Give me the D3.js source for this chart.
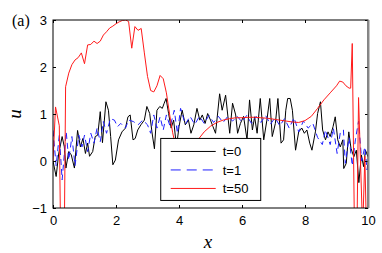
<!DOCTYPE html>
<html>
<head>
<meta charset="utf-8">
<script src="https://cdn.jsdelivr.net/npm/d3@7"></script>
<style>
  body { margin: 0; background: #fff; }
  .tick text { font-family: "Liberation Sans", Arial, sans-serif; }
</style>
</head>
<body>
<div class="canva"></div>
<script>
// t=0 (noisy initial condition)
const blackX = [0, 0.1, 0.18, 0.29, 0.36, 0.41, 0.5, 0.58, 0.68, 0.78, 0.87, 0.95, 1.03, 1.1, 1.16, 1.26, 1.34, 1.42, 1.5, 1.57, 1.68, 1.76, 1.83, 1.9, 1.98, 2.08, 2.19, 2.3, 2.38, 2.45, 2.54, 2.61, 2.69, 2.79, 2.9, 2.98, 3.07, 3.14, 3.22, 3.3, 3.39, 3.47, 3.53, 3.59, 3.67, 3.75, 3.83, 3.92, 4.0, 4.1, 4.2, 4.3, 4.38, 4.47, 4.57, 4.66, 4.74, 4.83, 4.91, 5.0, 5.08, 5.16, 5.29, 5.37, 5.48, 5.61, 5.7, 5.8, 5.86, 5.95, 6.05, 6.16, 6.24, 6.33, 6.4, 6.48, 6.58, 6.69, 6.79, 6.88, 6.96, 7.06, 7.14, 7.24, 7.32, 7.39, 7.45, 7.53, 7.6, 7.7, 7.8, 7.9, 7.98, 8.06, 8.15, 8.22, 8.33, 8.4, 8.49, 8.56, 8.65, 8.73, 8.8, 8.89, 8.96, 9.04, 9.12, 9.2, 9.23, 9.31, 9.39, 9.46, 9.55, 9.63, 9.71, 9.79, 9.86, 9.92, 10];
const blackY = [0, -0.33, 0.15, 0.52, 0.3, -0.15, 0.2, 0.13, -0.15, 0.65, 0.3, 0.48, 0.16, 0.38, 0.1, 0.2, 0.52, 0.55, 1.05, 0.39, 1.26, 1.08, 0.52, -0.08, 0.02, 0.45, 0.62, 0.7, 0.94, 0.98, 0.45, 0.48, 0.66, 0.77, 0.87, 1.16, 1.01, 0.62, 0.26, 1.08, 1.16, 1.12, 1.23, 1.33, 1.01, 0.7, 0.87, 0.3, 0.73, 1.08, 0.77, 0.87, 0.59, 0.77, 1.12, 0.87, 0.98, 0.8, 1.01, 0.87, 0.73, 0.59, 1.43, 1.08, 1.4, 0.59, 1.23, 0.98, 0.59, 0.8, 0.95, 0.45, 1.3, 0.66, 0.94, 0.59, 1.33, 0.45, 0.87, 1.33, 0.52, 0.8, 1.33, 0.38, 0.45, 1.08, 1.33, 1.33, 1.08, 0.23, 0.62, 0.7, 0.59, 0.66, 0.38, 0.23, 0.62, 1.01, 1.26, 0.66, 0.45, 0.62, 0.52, 0.73, 0.94, 0.45, 0.3, 0.45, -0.16, -0.05, 0.62, 0.27, 0.09, 0.23, -0.46, 0.13, -0.12, 0.23, 0.09];

// t=1
const blueX = [0, 0.1, 0.2, 0.29, 0.42, 0.5, 0.6, 0.7, 0.82, 0.92, 1.0, 1.1, 1.2, 1.3, 1.4, 1.5, 1.6, 1.7, 1.82, 1.95, 2.05, 2.15, 2.3, 2.4, 2.55, 2.7, 2.85, 3.0, 3.1, 3.2, 3.3, 3.4, 3.5, 3.6, 3.72, 3.85, 3.95, 4.05, 4.2, 4.35, 4.5, 4.65, 4.8, 4.95, 5.1, 5.25, 5.4, 5.55, 5.7, 5.85, 6.0, 6.15, 6.3, 6.45, 6.6, 6.75, 6.9, 7.05, 7.2, 7.35, 7.5, 7.65, 7.8, 7.95, 8.1, 8.25, 8.4, 8.55, 8.65, 8.8, 8.9, 9.02, 9.12, 9.22, 9.28, 9.4, 9.5, 9.6, 9.7, 9.8, 9.9, 9.97, 10];
const blueY = [0.65, -0.1, 0.55, -0.4, 0.62, 0.02, 0.52, -0.1, 0.55, 0.3, 0.55, 0.2, 0.59, 0.38, 0.7, 0.41, 0.84, 0.59, 0.9, 0.87, 0.73, 0.8, 0.7, 0.87, 0.84, 0.77, 0.87, 0.77, 0.59, 0.98, 0.7, 0.94, 0.66, 0.98, 0.73, 1.08, 0.59, 1.12, 0.78, 0.95, 0.78, 0.95, 0.8, 0.97, 0.82, 0.95, 0.82, 0.95, 0.85, 0.95, 0.83, 0.97, 0.8, 0.95, 0.82, 0.97, 0.78, 0.92, 0.75, 0.9, 0.7, 0.92, 0.62, 0.85, 0.7, 0.8, 0.5, 0.35, 0.66, 0.35, 0.7, 0.16, 0.6, 0.66, -0.05, 0.5, -0.1, 0.45, 0.85, 0.0, 0.3, -0.19, 0.0];

// t=50
const redX = [0, 0.08, 0.2, 0.24, 0.36, 0.4, 0.5, 0.6, 0.7, 0.8, 0.9, 1.0, 1.1, 1.2, 1.3, 1.4, 1.5, 1.6, 1.7, 1.8, 1.9, 2.0, 2.1, 2.2, 2.3, 2.4, 2.5, 2.6, 2.7, 2.8, 2.9, 3.0, 3.1, 3.2, 3.3, 3.4, 3.5, 3.6, 3.7, 3.8, 3.9, 4.0, 4.2, 4.4, 4.6, 4.8, 5.0, 5.2, 5.4, 5.6, 5.8, 6.0, 6.2, 6.4, 6.6, 6.8, 7.0, 7.2, 7.4, 7.6, 7.8, 8.0, 8.2, 8.4, 8.6, 8.8, 9.0, 9.1, 9.2, 9.3, 9.4, 9.45, 9.5, 9.57, 9.65, 9.7, 9.83, 9.9, 9.95, 10];
const redY = [0, 1.15, 0.75, -1.5, -1.5, 1.58, 1.87, 2.05, 2.15, 2.2, 2.3, 2.07, 2.47, 2.48, 2.55, 2.5, 2.55, 2.68, 2.75, 2.83, 2.87, 2.92, 2.96, 2.99, 3.0, 2.97, 2.4, 2.86, 2.78, 2.82, 2.3, 1.8, 1.5, 1.47, 1.6, 1.82, 1.75, 1.45, 1.0, 0.6, 0.3, 0.1, -0.05, 0.1, 0.45, 0.62, 0.74, 0.82, 0.87, 0.9, 0.92, 0.92, 0.93, 0.93, 0.92, 0.91, 0.89, 0.87, 0.85, 0.83, 0.82, 0.86, 0.95, 1.12, 1.3, 1.45, 1.6, 1.7, 1.68, 1.6, 1.55, 1.55, 2.5, -1.5, -1.5, 1.35, -1.5, 0.1, -1.5, -1.5];

const xTicks = [0, 2, 4, 6, 8, 10];
const yTicks = [-1, 0, 1, 2, 3];
const legendLabels = ['t=0', 't=1', 't=50'];

const width = 382, height = 253;
const margin = { top: 20, right: 14, bottom: 45, left: 53 };
const iw = width - margin.left - margin.right;
const ih = height - margin.top - margin.bottom;

const svg = d3.select('.canva').append('svg')
    .attr('width', width)
    .attr('height', height);

const x = d3.scaleLinear().domain([0, 10]).range([0, iw]);
const y = d3.scaleLinear().domain([-1, 3]).range([ih, 0]);

const g = svg.append('g').attr('transform', `translate(${margin.left},${margin.top})`);

g.append('clipPath').attr('id', 'clip')
    .append('rect').attr('width', iw).attr('height', ih);

const line = d3.line().x(d => x(d[0])).y(d => y(d[1]));
const zip = (xs, ys) => xs.map((v, i) => [v, ys[i]]);

const series = [
    { pts: zip(blackX, blackY), color: '#000', dash: null },
    { pts: zip(blueX, blueY), color: '#1f1fff', dash: '6,4' },
    { pts: zip(redX, redY), color: '#ff1a1a', dash: null }
];

const plot = g.append('g').attr('clip-path', 'url(#clip)');
series.forEach(s => {
    plot.append('path')
        .attr('d', line(s.pts))
        .attr('fill', 'none')
        .attr('stroke', s.color)
        .attr('stroke-width', 1)
        .attr('stroke-dasharray', s.dash);
});

// axes, MATLAB style with inward ticks
const fontSize = 13;
const xAxis = g.append('g').attr('transform', `translate(0,${ih})`)
    .call(d3.axisBottom(x).tickValues(xTicks).tickSize(-3).tickPadding(8).tickSizeOuter(0));
const yAxis = g.append('g')
    .call(d3.axisLeft(y).tickValues(yTicks).tickSize(-3).tickPadding(6).tickSizeOuter(0)
        .tickFormat(d => d < 0 ? '\u2212' + Math.abs(d) : d));
g.append('g')
    .call(d3.axisTop(x).tickValues(xTicks).tickSize(-3).tickFormat('').tickSizeOuter(0));
g.append('g').attr('transform', `translate(${iw},0)`)
    .call(d3.axisRight(y).tickValues(yTicks).tickSize(-3).tickFormat('').tickSizeOuter(0));

g.selectAll('.domain').remove();
g.selectAll('.tick text').attr('font-size', fontSize).attr('fill', '#000');
xAxis.selectAll('.tick text').attr('dy', '0.71em');

g.append('rect')
    .attr('width', iw).attr('height', ih)
    .attr('fill', 'none').attr('stroke', '#000').attr('stroke-width', 1);
g.append('line')
    .attr('x1', iw + 0.5).attr('x2', iw + 0.5).attr('y1', 0).attr('y2', ih)
    .attr('stroke', '#888').attr('stroke-width', 2);

// labels
svg.append('text')
    .attr('x', 208).attr('y', 248)
    .attr('text-anchor', 'middle')
    .attr('font-family', '"Liberation Serif", "Times New Roman", serif')
    .attr('font-style', 'italic').attr('font-size', 19)
    .text('x');
svg.append('text')
    .attr('transform', 'translate(21,114) rotate(-90)')
    .attr('text-anchor', 'middle')
    .attr('font-family', '"Liberation Serif", "Times New Roman", serif')
    .attr('font-style', 'italic').attr('font-size', 19)
    .text('u');
svg.append('text')
    .attr('x', 12).attr('y', 26)
    .attr('font-family', '"Liberation Serif", "Times New Roman", serif')
    .attr('font-size', 16)
    .text('(a)');

// legend
const lx = x(3.42), ly = y(0.48);
const legend = g.append('g').attr('transform', `translate(${lx},${ly})`);
legend.append('rect')
    .attr('width', 100).attr('height', 62)
    .attr('fill', '#fff').attr('stroke', '#000').attr('stroke-width', 1);
legend.selectAll('g.item')
    .data(series)
    .enter().append('g')
    .attr('transform', (d, i) => `translate(0,${13 + i * 18.5})`)
    .each(function (d, i) {
        const it = d3.select(this);
        it.append('line')
            .attr('x1', 10).attr('x2', 55)
            .attr('stroke', d.color).attr('stroke-width', 1)
            .attr('stroke-dasharray', d.dash ? '10,6' : null);
        it.append('text')
            .attr('x', 62).attr('dy', '0.35em')
            .attr('font-family', '"Liberation Sans", Arial, sans-serif')
            .attr('font-size', 13)
            .text(legendLabels[i]);
    });
</script>
</body>
</html>
